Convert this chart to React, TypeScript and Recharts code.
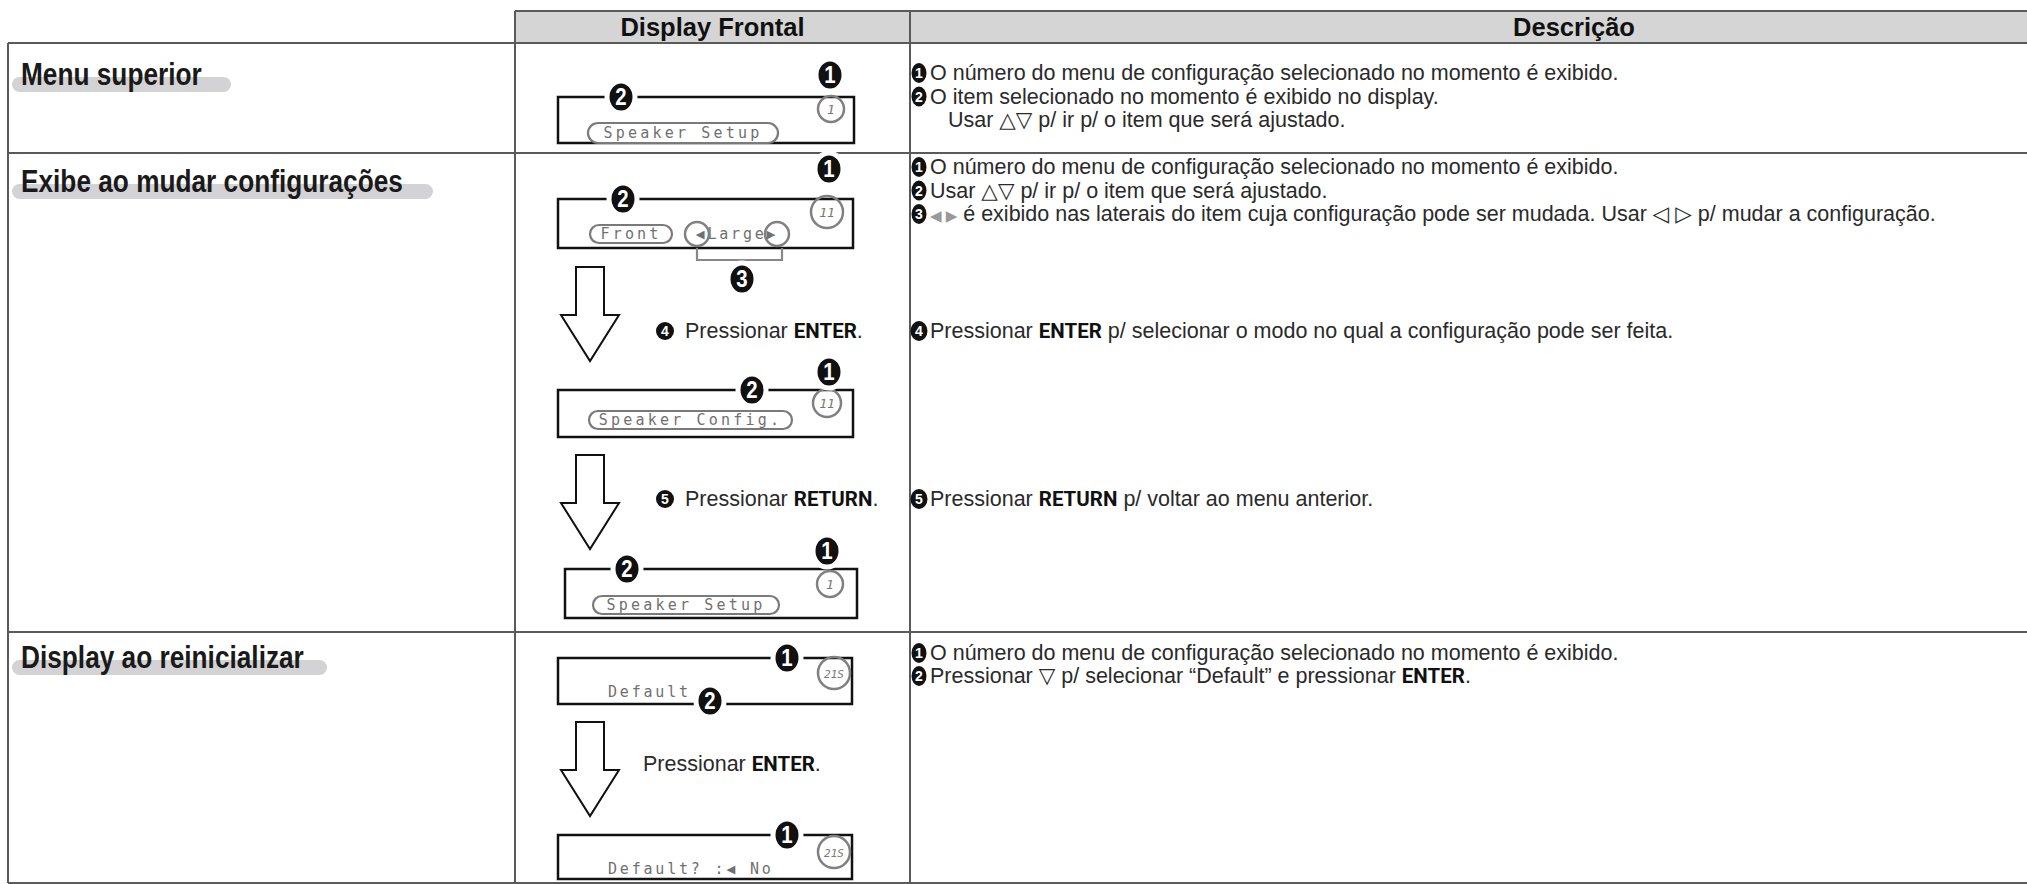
import React from 'react';
import { ScatterChart, Scatter, XAxis, YAxis, ReferenceLine, ReferenceArea } from 'recharts';

const W = 2027;
const H = 884;

const SANS = "'Liberation Sans', 'DejaVu Sans', sans-serif";
const KEYFONT = "Roboto, 'Liberation Sans', sans-serif";
const MONO = "'DejaVu Sans Mono', 'Liberation Mono', monospace";

// ---- content ----
const headerLabels = ['Display Frontal', 'Descrição'];
const rowLabels = ['Menu superior', 'Exibe ao mudar configurações', 'Display ao reinicializar'];

const descMenu = [
  ['1', 'O número do menu de configuração selecionado no momento é exibido.'],
  ['2', 'O item selecionado no momento é exibido no display.'],
  ['', 'Usar △▽ p/ ir p/ o item que será ajustado.'],
];
const descChange = [
  ['1', 'O número do menu de configuração selecionado no momento é exibido.'],
  ['2', 'Usar △▽ p/ ir p/ o item que será ajustado.'],
  ['3', '{◀ ▶} é exibido nas laterais do item cuja configuração pode ser mudada. Usar ◁ ▷ p/ mudar a configuração.'],
  ['4', 'Pressionar **ENTER** p/ selecionar o modo no qual a configuração pode ser feita.'],
  ['5', 'Pressionar **RETURN** p/ voltar ao menu anterior.'],
];
const descReset = [
  ['1', 'O número do menu de configuração selecionado no momento é exibido.'],
  ['2', 'Pressionar ▽ p/ selecionar “Default” e pressionar **ENTER**.'],
];

const lcdPillTexts = ['Speaker Setup', 'Front', 'Speaker Config.', 'Speaker Setup'];
const lcdPlainTexts = ['◀Large▶', 'Default', 'Default? :◀ No'];
const menuNumbers = ['1', '11', '11', '1', '21S', '21S'];
const displayBadges = ['1', '2', '1', '2', '3', '1', '2', '1', '2', '1', '2', '1'];
const stepMarks = ['4', '5', ''];
const stepTexts = ['Pressionar **ENTER**.', 'Pressionar **RETURN**.', 'Pressionar **ENTER**.'];

// ---- layout (pixels) ----
const COL_X = [8, 515, 910, W];
const HEAD_Y = [11, 43];
const ROW_Y = [43, 153, 632, 883];
const LABEL_BASE = [85, 192, 668];
const PILL_END = [231, 433, 327];
const DESC_Y = [[73, 96.5, 120], [167, 190.5, 214, 331, 499], [653, 676]];
const BOXES = [
  [558, 97, 854, 143], [558, 199, 853, 248], [558, 390, 853, 437],
  [565, 569, 857, 618], [558, 658, 852, 704], [558, 835, 852, 879],
];
const BADGE_POS = [
  [830, 75], [621, 97], [829, 169], [623, 199], [742, 279], [829, 372],
  [752, 390], [827, 551], [627, 569], [787, 658], [710, 701], [787, 835],
];
const RING_POS = [[831, 109, 13], [827, 212, 16], [827, 403, 14], [830, 584, 13], [834, 673, 16], [834, 852, 16]];
const SIDE_RINGS = [[697, 234], [777, 234]];
const PILL_POS = [[588, 123, 778, 143], [590, 225, 672, 243], [589, 411, 792, 429], [593, 596, 779, 614]];
const PLAIN_POS: [number, number, string][] = [[737, 234, 'middle'], [608, 692, 'start'], [608, 869, 'start']];
const ARROW_X = 590;
const ARROW_TOP = [267, 455, 722];
const STEP_POS = [[665, 331], [665, 499], [643, 764]];
const BRACKET = [697, 248, 782, 260];

function rich(text: string) {
  const parts = text.split(/(\*\*[^*]+\*\*|\{[^}]+\})/).filter(Boolean);
  return parts.map((p, i) => {
    if (p.startsWith('**')) return <tspan key={i} fontFamily={KEYFONT} fontWeight="bold" fontSize={20.5} fill="#111">{p.slice(2, -2)}</tspan>;
    if (p.startsWith('{')) return <tspan key={i} fill="#999" fontSize={15}>{p.slice(1, -1)}</tspan>;
    return <tspan key={i}>{p}</tspan>;
  });
}

// ---- scatter data built from the arrays above ----
const headerData = headerLabels.map((t, i) => ({ x: i === 0 ? (COL_X[1] + COL_X[2]) / 2 : 1574, y: (HEAD_Y[0] + HEAD_Y[1]) / 2, text: t }));
const labelData = rowLabels.map((t, i) => ({ x: 21, y: LABEL_BASE[i], text: t, end: PILL_END[i] }));
const descData = [descMenu, descChange, descReset].flatMap((rows, r) =>
  rows.map(([mark, text], i) => ({ x: COL_X[2] + 9, y: DESC_Y[r][i], mark, text })));
const boxData = BOXES.map(([x1, y1, x2, y2]) => ({ x: x1, y: y1, w: x2 - x1, h: y2 - y1 }));
const pillData = lcdPillTexts.map((t, i) => {
  const [x1, y1, x2, y2] = PILL_POS[i];
  return { x: (x1 + x2) / 2, y: (y1 + y2) / 2, w: x2 - x1, h: y2 - y1, text: t };
});
const plainData = lcdPlainTexts.map((t, i) => ({ x: PLAIN_POS[i][0], y: PLAIN_POS[i][1], anchor: PLAIN_POS[i][2], text: t }));
const ringData = menuNumbers.map((t, i) => ({ x: RING_POS[i][0], y: RING_POS[i][1], r: RING_POS[i][2], text: t }))
  .concat(SIDE_RINGS.map(([x, y]) => ({ x, y, r: 12, text: '' })));
const badgeData = displayBadges.map((d, i) => ({ x: BADGE_POS[i][0], y: BADGE_POS[i][1], text: d }));
const arrowData = ARROW_TOP.map((t) => ({ x: ARROW_X, y: t }));
const stepData = stepTexts.map((t, i) => ({ x: STEP_POS[i][0], y: STEP_POS[i][1], mark: stepMarks[i], text: t }));
const bracketData = [{ x: BRACKET[0], y: BRACKET[1], w: BRACKET[2] - BRACKET[0], h: BRACKET[3] - BRACKET[1] }];

const HeaderShape = (p: any) => (
  <text x={p.cx} y={p.cy + 9} textAnchor="middle" fontFamily={SANS} fontWeight="bold" fontSize={25.5} fill="#111">
    {p.payload.text}
  </text>
);

const LabelShape = (p: any) => (
  <g>
    <rect x={p.cx - 9} y={p.cy - 8} width={p.payload.end - p.cx + 9} height={15} rx={7.5} fill="#d3d3d5" />
    <text transform={`translate(${p.cx},${p.cy}) scale(0.82,1)`} x={0} y={0} fontFamily={SANS} fontWeight="bold" fontSize={32} fill="#1a1a1a">
      {p.payload.text}
    </text>
  </g>
);

const DescShape = (p: any) => {
  const { mark, text } = p.payload;
  const round = mark === '4' || mark === '5';
  return (
    <g>
      {mark && (
        <g>
          <ellipse cx={p.cx} cy={p.cy} rx={round ? 8.5 : 7.5} ry={10} fill="#111" />
          <text x={p.cx} y={p.cy + 5} textAnchor="middle" fontFamily={SANS} fontWeight="bold" fontSize={14} fill="#fff">{mark}</text>
        </g>
      )}
      <text x={p.cx + 11} y={p.cy + 7} fontFamily={SANS} fontSize={21.5} fill="#2a2a2a" style={{ whiteSpace: 'pre' }}>
        {mark ? null : <tspan>{'   '}</tspan>}
        {rich(text)}
      </text>
    </g>
  );
};

const BoxShape = (p: any) => (
  <rect x={p.cx} y={p.cy} width={p.payload.w} height={p.payload.h} fill="#fff" stroke="#111" strokeWidth={2.5} />
);

const PillShape = (p: any) => {
  const { w, h, text } = p.payload;
  return (
    <g>
      <rect x={p.cx - w / 2} y={p.cy - h / 2} width={w} height={h} rx={h / 2} fill="#fff" stroke="#7a7a7a" strokeWidth={2.2} />
      <text x={p.cx} y={p.cy + 5} textAnchor="middle" fontFamily={MONO} fontSize={15} letterSpacing={3.2} fill="#707070">{text}</text>
    </g>
  );
};

const PlainShape = (p: any) => (
  <text x={p.cx} y={p.cy + 5} textAnchor={p.payload.anchor} fontFamily={MONO} fontSize={15} letterSpacing={2.8} fill="#707070">
    {p.payload.text}
  </text>
);

const RingShape = (p: any) => (
  <g>
    <circle cx={p.cx} cy={p.cy} r={p.payload.r} fill="none" stroke="#808080" strokeWidth={2.5} />
    {p.payload.text && (
      <text x={p.cx} y={p.cy + 5} textAnchor="middle" fontFamily={MONO} fontStyle="italic" fontSize={p.payload.text.length > 2 ? 11 : 13} fill="#777">
        {p.payload.text}
      </text>
    )}
  </g>
);

const BadgeShape = (p: any) => (
  <g>
    <ellipse cx={p.cx} cy={p.cy} rx={14} ry={16} fill="#111" stroke="#fff" strokeWidth={5} />
    <text transform={`translate(${p.cx},${p.cy + 8}) scale(0.85,1)`} x={0} y={0} textAnchor="middle" fontFamily={SANS} fontWeight="bold" fontSize={24} fill="#fff">
      {p.payload.text}
    </text>
  </g>
);

const ArrowShape = (p: any) => {
  const x = p.cx;
  const t = p.cy;
  const pts = [
    [x - 14, t], [x + 14, t], [x + 14, t + 48], [x + 29, t + 48], [x, t + 94], [x - 29, t + 48], [x - 14, t + 48],
  ].map((q) => q.join(',')).join(' ');
  return <polygon points={pts} fill="#fff" stroke="#111" strokeWidth={2} strokeLinejoin="miter" />;
};

const StepShape = (p: any) => {
  const { mark, text } = p.payload;
  return (
    <g>
      {mark && (
        <g>
          <circle cx={p.cx} cy={p.cy} r={9} fill="#111" />
          <text x={p.cx} y={p.cy + 5} textAnchor="middle" fontFamily={SANS} fontWeight="bold" fontSize={14} fill="#fff">{mark}</text>
        </g>
      )}
      <text x={mark ? p.cx + 20 : p.cx} y={p.cy + 7} fontFamily={SANS} fontSize={21.5} fill="#2a2a2a" style={{ whiteSpace: 'pre' }}>
        {rich(text)}
      </text>
    </g>
  );
};

const BracketShape = (p: any) => (
  <path d={`M${p.cx},${p.cy} V${p.cy + p.payload.h} H${p.cx + p.payload.w} V${p.cy}`} fill="none" stroke="#888" strokeWidth={2.2} />
);

const lineColor = '#5a5a5a';

export default function App() {
  return (
    <div style={{ position: 'absolute', left: 0, top: 0, width: W, height: H, background: '#fff' }}>
      <ScatterChart width={W} height={H} margin={{ top: 0, right: 0, bottom: 0, left: 0 }}>
        <XAxis type="number" dataKey="x" domain={[0, W]} hide />
        <YAxis type="number" dataKey="y" domain={[0, H]} reversed hide />
        <ReferenceArea x1={COL_X[1]} x2={W} y1={HEAD_Y[0]} y2={HEAD_Y[1]} fill="#d5d5d5" fillOpacity={1} stroke="none" ifOverflow="visible" />
        {/* horizontal rules */}
        <ReferenceLine segment={[{ x: COL_X[1], y: HEAD_Y[0] }, { x: W, y: HEAD_Y[0] }]} stroke={lineColor} strokeWidth={2} ifOverflow="visible" />
        {ROW_Y.map((y) => (
          <ReferenceLine key={y} segment={[{ x: COL_X[0], y }, { x: W, y }]} stroke={lineColor} strokeWidth={2} ifOverflow="visible" />
        ))}
        {/* vertical rules */}
        <ReferenceLine segment={[{ x: COL_X[0], y: ROW_Y[0] }, { x: COL_X[0], y: ROW_Y[3] }]} stroke={lineColor} strokeWidth={2} ifOverflow="visible" />
        <ReferenceLine segment={[{ x: COL_X[1], y: HEAD_Y[0] }, { x: COL_X[1], y: ROW_Y[3] }]} stroke={lineColor} strokeWidth={2} ifOverflow="visible" />
        <ReferenceLine segment={[{ x: COL_X[2], y: HEAD_Y[0] }, { x: COL_X[2], y: ROW_Y[3] }]} stroke={lineColor} strokeWidth={2} ifOverflow="visible" />

        <Scatter data={headerData} shape={HeaderShape} isAnimationActive={false} />
        <Scatter data={labelData} shape={LabelShape} isAnimationActive={false} />
        <Scatter data={descData} shape={DescShape} isAnimationActive={false} />
        <Scatter data={boxData} shape={BoxShape} isAnimationActive={false} />
        <Scatter data={bracketData} shape={BracketShape} isAnimationActive={false} />
        <Scatter data={pillData} shape={PillShape} isAnimationActive={false} />
        <Scatter data={plainData} shape={PlainShape} isAnimationActive={false} />
        <Scatter data={ringData} shape={RingShape} isAnimationActive={false} />
        <Scatter data={arrowData} shape={ArrowShape} isAnimationActive={false} />
        <Scatter data={stepData} shape={StepShape} isAnimationActive={false} />
        <Scatter data={badgeData} shape={BadgeShape} isAnimationActive={false} />
      </ScatterChart>
    </div>
  );
}
